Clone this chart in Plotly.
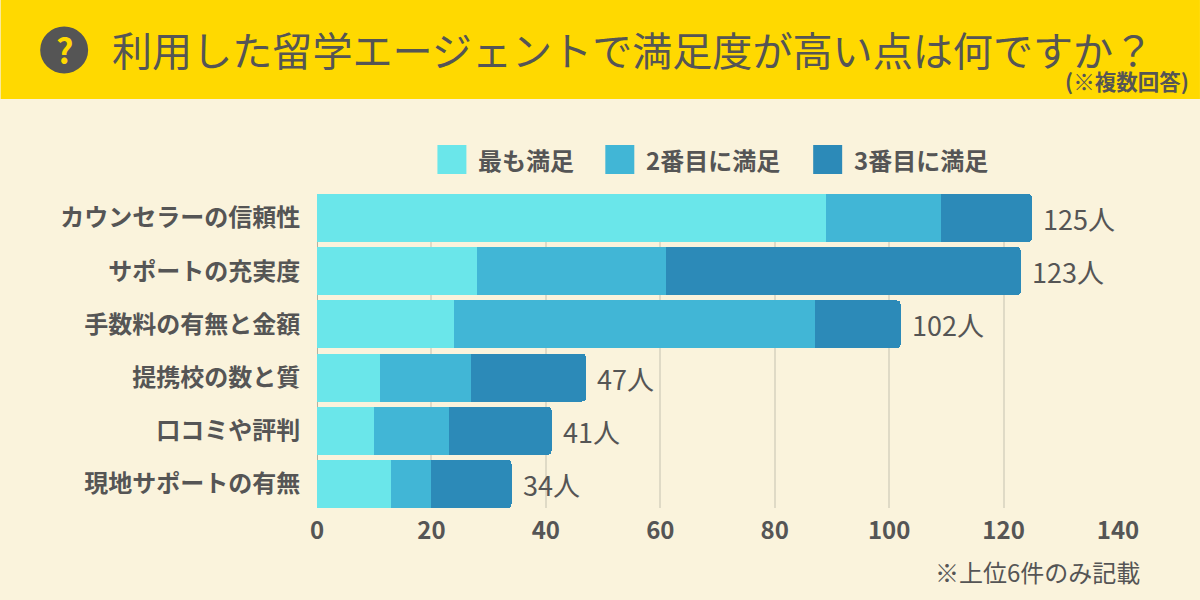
import plotly.graph_objects as go

FONT = "Noto Sans CJK JP"
TEXT = "#555555"

CATEGORIES = ["カウンセラーの信頼性", "サポートの充実度", "手数料の有無と金額", "提携校の数と質", "口コミや評判", "現地サポートの有無"]
FIRST = [89, 28, 24, 11, 10, 13]
SECOND = [20, 33, 63, 16, 13, 7]
THIRD = [16, 62, 15, 20, 18, 14]
TOTALS = [125, 123, 102, 47, 41, 34]
SERIES_NAMES = ["最も満足", "2番目に満足", "3番目に満足"]
SERIES_COLORS = ["#6AE6EA", "#41B6D6", "#2C8AB8"]
X_TICKS = [0, 20, 40, 60, 80, 100, 120, 140]

fig = go.Figure()
for name, values, color in zip(SERIES_NAMES, [FIRST, SECOND, THIRD], SERIES_COLORS):
    fig.add_trace(go.Bar(y=CATEGORIES, x=values, name=name, orientation="h",
                         marker=dict(color=color, line_width=0), showlegend=False))

# Totals at the end of each stack
for cat, total in zip(CATEGORIES, TOTALS):
    fig.add_annotation(x=total, y=cat, text=f"{total}人", showarrow=False, xanchor="left", xshift=9, yshift=-0.5,
                       font=dict(family=FONT, size=27, color=TEXT))


def px(x):
    return (x - 316.5) / 801.5


def py(y):
    return (508 - y) / 314


def label(x, y, text, size, anchor="left", color=TEXT, weight=400):
    fig.add_annotation(xref="paper", yref="paper", x=px(x), y=py(y), xanchor=anchor, yanchor="middle",
                       showarrow=False, text=text, font=dict(family=FONT, size=size, color=color, weight=weight))


# Header band
fig.add_shape(type="rect", xref="paper", yref="paper", x0=px(0), x1=px(1200), y0=py(99), y1=py(0), layer="below",
              fillcolor="#FFD900", line_width=0)

# Question mark icon
fig.add_shape(type="circle", xref="paper", yref="paper", x0=px(39.5), x1=px(87.5), y0=py(73.5), y1=py(26.5),
              fillcolor=TEXT, line_width=0)
label(63.5, 49, "?", 34, anchor="center", color="#FFD900", weight=700)

label(109.5, 48, "利用した留学エージェントで満足度が高い点は何ですか？", 40.1)
label(1191, 80, "(※複数回答)", 21.5, anchor="right", weight=700)

# Legend drawn by hand for the large square keys
for name, color, key_x in zip(SERIES_NAMES, SERIES_COLORS, [437, 605, 813]):
    fig.add_shape(type="rect", xref="paper", yref="paper", x0=px(key_x), x1=px(key_x + 29), y0=py(174), y1=py(145),
                  fillcolor=color, line_width=0)
    label(key_x + 38.5, 159.5, name, 24, weight=700)

label(1142, 571, "※上位6件のみ記載", 24, anchor="right")

fig.update_layout(
    width=1200, height=600, barmode="stack", bargap=0.1, barcornerradius=4,
    paper_bgcolor="#FAF3DC", plot_bgcolor="#FAF3DC",
    margin=dict(l=316.5, r=82, t=194, b=92, autoexpand=False),
    font=dict(family=FONT, color=TEXT),
    xaxis=dict(range=[0, 140], tickvals=X_TICKS, showgrid=True, gridcolor="#DFDAC6", gridwidth=2,
               zeroline=True, zerolinecolor="#B5B0A0", zerolinewidth=1, showline=False, ticks="outside",
               ticklen=1, tickcolor="rgba(0,0,0,0)", tickfont=dict(family=FONT, size=24, color=TEXT, weight=700)),
    # Range trimmed so the first and last bars touch the plot edges
    yaxis=dict(range=[5.45, -0.45], showgrid=False, showline=False, zeroline=False, ticks="outside", ticklen=11,
               tickcolor="rgba(0,0,0,0)", tickfont=dict(family=FONT, size=24, color=TEXT, weight=700)),
)

# The page's default body margin would push the chart 8px off
fig.write_html("out.html", config=dict(displayModeBar=False),
               post_script="document.body.style.margin='0';document.body.style.overflow='hidden';")
